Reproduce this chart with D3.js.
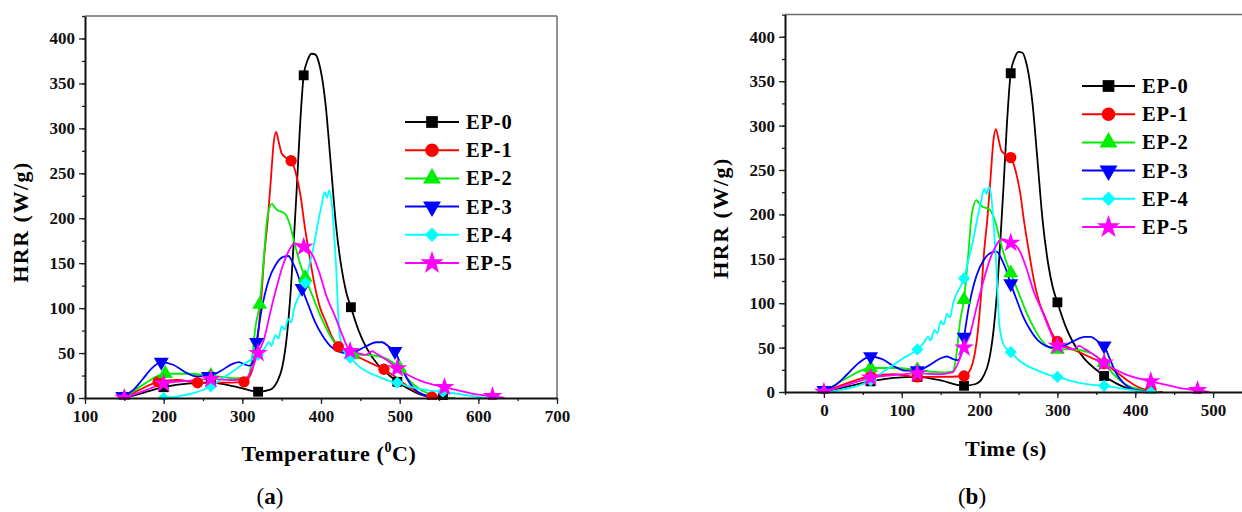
<!DOCTYPE html>
<html>
<head>
<meta charset="utf-8">
<script src="https://cdn.jsdelivr.net/npm/d3@7"></script>
<style>
  body { margin: 0; background: #fff; }
  svg text { font-family: "Liberation Serif", "Times New Roman", serif; }
</style>
</head>
<body>
<svg id="chart" width="1242" height="512"></svg>
<script>
// HRR curves, time in seconds
var seriesNames = ['EP-0', 'EP-1', 'EP-2', 'EP-3', 'EP-4', 'EP-5'];

var timeEP0 = [0, 30, 60, 90, 120, 150, 180, 195, 205, 212, 218, 223, 227, 231, 235, 240, 245, 250, 255, 259, 263, 268, 274, 281, 288, 294, 300, 310, 320, 335, 350, 360, 375, 390, 405, 420, 435];
var hrrEP0  = [0, 6, 12, 16, 17, 13, 7, 9, 18, 35, 70, 120, 175, 235, 300, 359, 376, 383, 382, 374, 358, 325, 265, 193, 145, 118, 101, 75, 56, 37, 25, 18, 10, 4, 1, 0, 0];

var timeEP1 = [0, 30, 60, 90, 120, 150, 180, 186, 191, 196, 202, 206, 210, 214, 218, 221, 224, 228, 234, 240, 246, 252, 257, 263, 270, 277, 284, 292, 300, 315, 330, 345, 360, 375, 390, 405, 420, 435];
var hrrEP1  = [0, 10, 18, 20, 17, 17, 18, 22, 32, 55, 110, 160, 195, 240, 285, 296, 286, 272, 267, 264, 250, 225, 193, 160, 125, 100, 85, 68, 57, 50, 44, 38, 32, 23, 13, 5, 1, 0];

var timeEP2 = [0, 30, 60, 90, 120, 150, 165, 170, 175, 180, 185, 190, 196, 200, 205, 210, 215, 220, 226, 233, 240, 250, 260, 270, 280, 290, 300, 315, 330, 345, 360, 372, 385, 400, 415, 430];
var hrrEP2  = [0, 16, 27, 27, 25, 22, 23, 40, 80, 104, 150, 200, 216, 212, 208, 207, 203, 192, 172, 150, 134, 112, 90, 72, 58, 50, 48, 48, 47, 43, 33, 20, 10, 4, 1, 0];

var timeEP3 = [0, 15, 30, 45, 60, 75, 90, 105, 120, 135, 150, 158, 166, 172, 176, 180, 186, 196, 205, 215, 222, 228, 234, 240, 248, 256, 265, 275, 285, 295, 305, 320, 335, 343, 352, 360, 367, 375, 385, 395, 410, 425];
var hrrEP3  = [2, 8, 20, 33, 40, 37, 29, 24, 24, 30, 38, 40, 37, 36, 42, 62, 95, 131, 148, 157, 158, 150, 138, 122, 103, 85, 70, 58, 52, 50, 51, 57, 62, 62, 57, 52, 38, 22, 10, 4, 1, 0];

var timeEP4 = [0, 20, 40, 60, 80, 100, 120, 128, 134, 137, 142, 146, 150, 154, 158, 162, 166, 170, 175, 180, 186, 192, 197, 202, 206, 209, 212, 215, 218, 221, 225, 229, 235, 240, 250, 260, 275, 290, 300, 315, 330, 345, 360, 375, 390, 405, 420];
var hrrEP4  = [0, 2, 6, 13, 25, 37, 48, 55, 62, 58, 70, 66, 80, 76, 88, 84, 100, 110, 118, 128, 150, 172, 195, 215, 229, 223, 231, 220, 190, 150, 80, 58, 48, 45, 36, 30, 24, 19, 17, 13, 10, 8, 7, 5, 3, 1, 0];

var timeEP5 = [0, 30, 60, 90, 120, 150, 165, 172, 180, 188, 196, 204, 212, 220, 228, 234, 240, 245, 252, 260, 270, 280, 290, 300, 310, 320, 328, 334, 340, 350, 360, 375, 390, 405, 420, 440, 460, 480, 495];
var hrrEP5  = [0, 8, 16, 19, 21, 20, 22, 32, 50, 66, 95, 122, 146, 163, 172, 171, 168, 166, 158, 140, 112, 92, 70, 52, 50, 48, 52, 49, 46, 40, 33, 25, 19, 15, 12, 8, 4, 2, 0];

// marker times (every 60 s) and the temperature each marker sits at in panel (a)
var markTimes = [0, 60, 120, 180, 240, 300, 360, 420, 480];
var tempEP0 = [150, 200, 260, 320, 378, 438, 497, 555, 615];
var tempEP1 = [150, 193, 243, 302, 362, 422, 480, 541, 600];
var tempEP2 = [150, 202, 260, 322, 380, 440, 500, 560, 620];
var tempEP3 = [148, 197, 257, 318, 376, 437, 494, 554, 614];
var tempEP4 = [200, 260, 320, 380, 437, 497, 555, 618, 678];
var tempEP5 = [150, 200, 260, 320, 378, 437, 497, 557, 618];

var seriesColors = ['#000000', '#ff0000', '#00ee00', '#0000ff', '#00ffff', '#ff00ff'];

var timeTicks = [0, 100, 200, 300, 400, 500];
var tempTicks = [100, 200, 300, 400, 500, 600, 700];
var hrrTicks = [0, 50, 100, 150, 200, 250, 300, 350, 400];

var times = [timeEP0, timeEP1, timeEP2, timeEP3, timeEP4, timeEP5];
var hrrs = [hrrEP0, hrrEP1, hrrEP2, hrrEP3, hrrEP4, hrrEP5];
var temps = [tempEP0, tempEP1, tempEP2, tempEP3, tempEP4, tempEP5];

// time -> temperature, piecewise between marker positions
var toTemp = temps.map(function(tp) {
  return d3.scaleLinear().domain(markTimes).range(tp);
});

var svg = d3.select('#chart');

function markerPath(i, size) {
  var types = [d3.symbolSquare, d3.symbolCircle, d3.symbolTriangle, d3.symbolTriangle, d3.symbolSquare, d3.symbolStar];
  var scale = [1.1, 1.15, 1.1, 1.1, 0.85, 1.35];
  return d3.symbol().type(types[i]).size(size * scale[i])();
}
function markerRotate(i) {
  if (i === 3) return ' rotate(180)';
  if (i === 4) return ' rotate(45)';
  return '';
}

function drawPanel(p) {
  var g = svg.append('g');
  var x = d3.scaleLinear().domain(p.xDomain).range(p.xRange);
  var y = d3.scaleLinear().domain([0, 425]).range(p.yRange);
  var x0 = p.xRange[0], x1 = p.xRange[1], y0 = p.yRange[0], y1 = p.yRange[1];

  // frame top/right
  g.append('line').attr('x1', x0).attr('x2', x1).attr('y1', y1).attr('y2', y1)
    .attr('stroke', '#6e6e6e').attr('stroke-width', 1.5);
  g.append('line').attr('x1', x1).attr('x2', x1).attr('y1', y1).attr('y2', y0)
    .attr('stroke', '#6e6e6e').attr('stroke-width', 1.5);

  // curves
  var line = d3.line().curve(d3.curveMonotoneX)
    .x(function(d) { return x(d[0]); })
    .y(function(d) { return y(d[1]); });

  var clipId = 'clip' + p.id;
  svg.append('clipPath').attr('id', clipId).append('rect')
    .attr('x', x0).attr('y', y1).attr('width', x1 - x0).attr('height', y0 - y1 + 2);

  var plot = g.append('g').attr('clip-path', 'url(#' + clipId + ')');
  seriesNames.forEach(function(name, i) {
    var pts = times[i].map(function(t, k) { return [p.xOf(t, i), hrrs[i][k]]; });
    plot.append('path').datum(pts)
      .attr('d', line).attr('fill', 'none')
      .attr('stroke', seriesColors[i]).attr('stroke-width', 1.8)
      .attr('stroke-linejoin', 'round');
  });
  seriesNames.forEach(function(name, i) {
    var marks = [];
    times[i].forEach(function(t, k) {
      if (markTimes.indexOf(t) >= 0) marks.push([p.xOf(t, i), hrrs[i][k]]);
    });
    plot.selectAll(null).data(marks).enter().append('path')
      .attr('d', markerPath(i, 88))
      .attr('transform', function(d) { return 'translate(' + x(d[0]) + ',' + y(d[1]) + ')' + markerRotate(i); })
      .attr('fill', seriesColors[i]);
  });

  // axes
  var xMinor = d3.range(p.xDomain[0], p.xDomain[1] + 1, 50);
  var yMinor = d3.range(0, 426, 25);
  g.append('g').attr('transform', 'translate(0,' + y0 + ')')
    .call(d3.axisBottom(x).tickValues(xMinor).tickSize(3).tickFormat(''))
    .call(function(a) { a.select('.domain').remove(); });
  var xa = g.append('g').attr('transform', 'translate(0,' + y0 + ')')
    .call(d3.axisBottom(x).tickValues(p.xTicks).tickSize(6).tickSizeOuter(0).tickPadding(6));
  g.append('g').attr('transform', 'translate(' + x0 + ',0)')
    .call(d3.axisLeft(y).tickValues(yMinor).tickSize(3).tickFormat(''))
    .call(function(a) { a.select('.domain').remove(); });
  var ya = g.append('g').attr('transform', 'translate(' + x0 + ',0)')
    .call(d3.axisLeft(y).tickValues(hrrTicks).tickSize(6).tickSizeOuter(0).tickPadding(4));
  g.selectAll('.tick line').attr('stroke', '#222').attr('stroke-width', 1.3);
  [xa, ya].forEach(function(a) {
    a.select('.domain').attr('stroke', '#111').attr('stroke-width', 2);
    a.selectAll('text').attr('font-size', 17).attr('font-weight', 'bold').attr('fill', '#111');
  });

  // axis titles
  g.append('text')
    .attr('transform', 'translate(' + p.yTitle[0] + ',' + p.yTitle[1] + ') rotate(-90)')
    .attr('text-anchor', 'middle').attr('font-size', 22).attr('font-weight', 'bold')
    .attr('letter-spacing', 1.5)
    .text('HRR (W/g)');
  var xt = g.append('text').attr('x', p.xTitle[0]).attr('y', p.xTitle[1])
    .attr('text-anchor', 'middle').attr('font-size', 22).attr('font-weight', 'bold')
    .attr('letter-spacing', 0.6);
  p.xTitleText(xt);

  // legend
  var lg = g.append('g').attr('transform', 'translate(' + p.legend[0] + ',' + p.legend[1] + ')');
  seriesNames.forEach(function(name, i) {
    var row = lg.append('g').attr('transform', 'translate(0,' + (i * 28.2) + ')');
    row.append('line').attr('x1', 0).attr('x2', p.legendLen).attr('y1', 0).attr('y2', 0)
      .attr('stroke', seriesColors[i]).attr('stroke-width', 2);
    row.append('path').attr('d', markerPath(i, 125))
      .attr('transform', 'translate(' + (p.legendLen / 2) + ',0)' + markerRotate(i))
      .attr('fill', seriesColors[i]);
    row.append('text').attr('x', p.legendLen + 7).attr('y', 7)
      .attr('font-size', 20.5).attr('font-weight', 'bold').attr('letter-spacing', 0.8)
      .text(name);
  });

  // panel label
  var lab = svg.append('text').attr('x', p.label[0]).attr('y', p.label[1])
    .attr('text-anchor', 'middle').attr('font-size', 23);
  lab.append('tspan').text('(');
  lab.append('tspan').attr('font-weight', 'bold').text(p.id);
  lab.append('tspan').text(')');
}

drawPanel({
  id: 'a',
  xDomain: [100, 700], xRange: [85, 557], yRange: [398, 16],
  xTicks: tempTicks,
  xOf: function(t, i) { return toTemp[i](t); },
  yTitle: [28, 222], xTitle: [329, 461],
  xTitleText: function(t) {
    t.append('tspan').text('Temperature (');
    t.append('tspan').attr('font-size', 14).attr('dy', -9).text('0');
    t.append('tspan').attr('dy', 9).text('C)');
  },
  legend: [405, 122], legendLen: 54,
  label: [270, 504]
});

drawPanel({
  id: 'b',
  xDomain: [-50, 550], xRange: [785, 1252], yRange: [392, 14.6],
  xTicks: timeTicks,
  xOf: function(t) { return t; },
  yTitle: [728, 218], xTitle: [1006, 456],
  xTitleText: function(t) { t.text('Time (s)'); },
  legend: [1082, 86], legendLen: 53,
  label: [972, 504]
});
</script>
</body>
</html>
